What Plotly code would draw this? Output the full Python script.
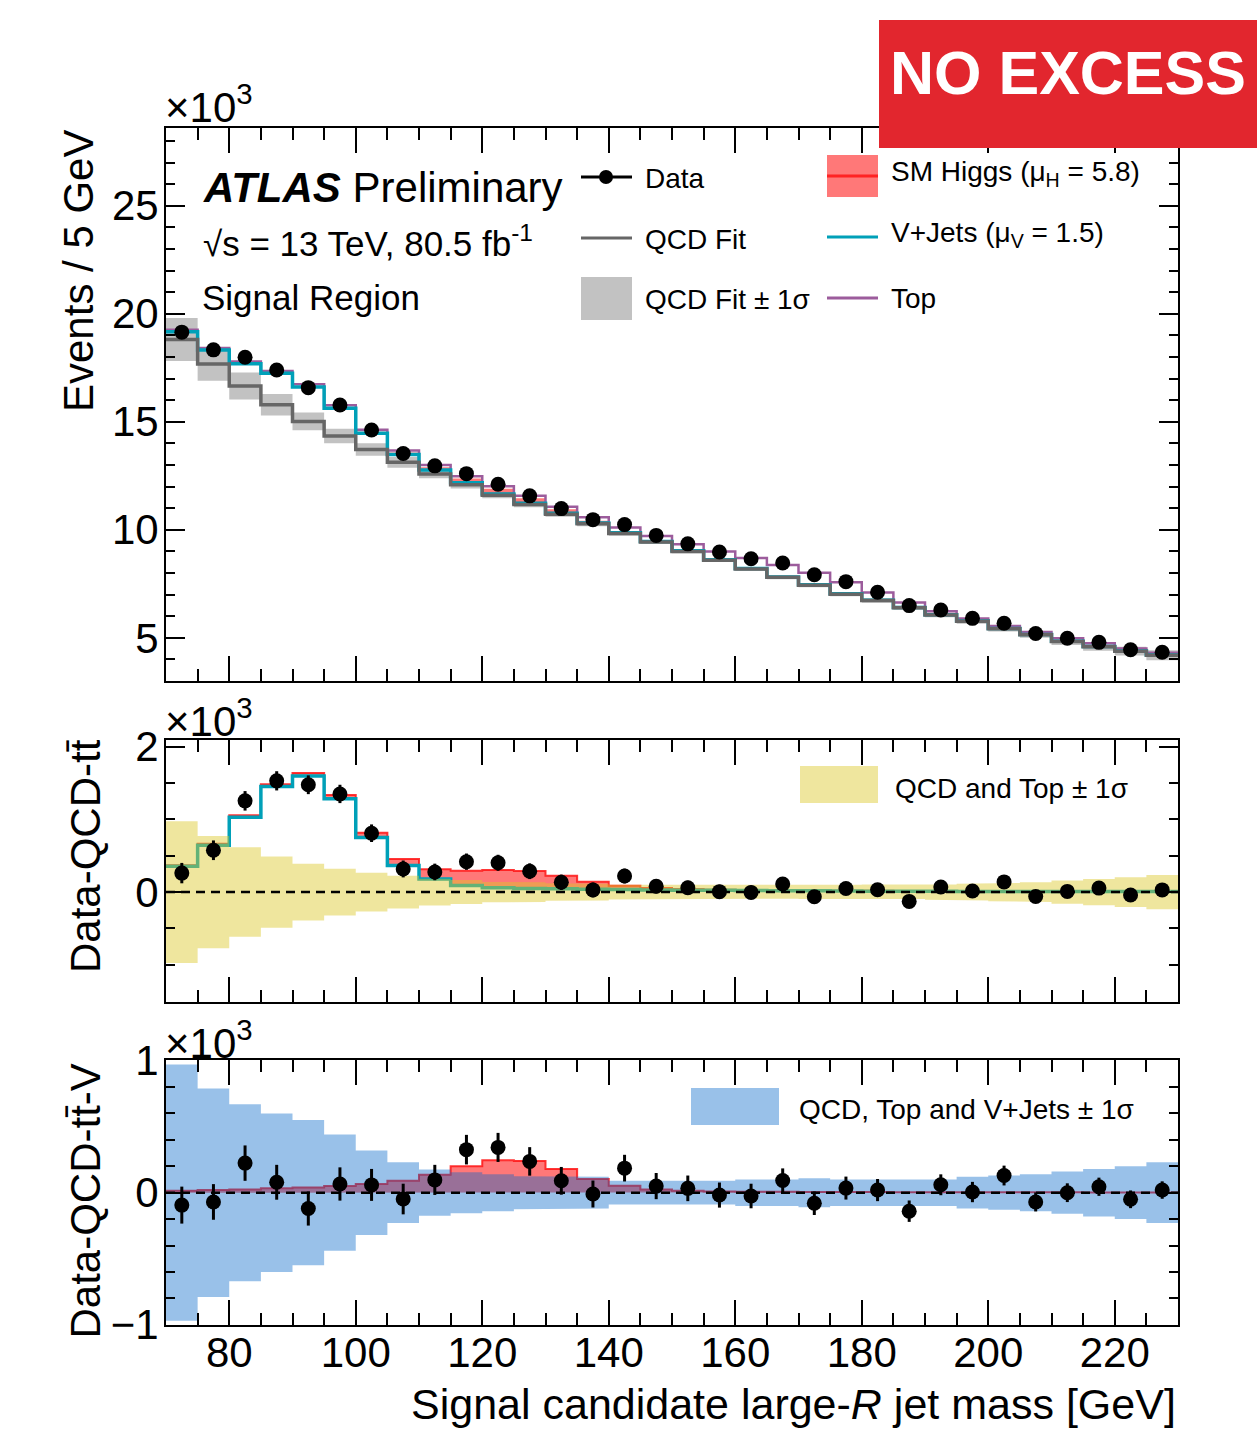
import numpy as np
import plotly.graph_objects as go

# ---- binning: large-R jet mass, 5 GeV bins from 70 to 230 GeV ----
mass_edges = list(range(70, 235, 5))

# ---- yields in units of 10^3 events per bin ----
data = [19.15, 18.33, 17.99, 17.40, 16.58, 15.78, 14.62, 13.53, 12.96, 12.60, 12.11,
        11.57, 10.98, 10.47, 10.24, 9.74, 9.35, 8.97, 8.66, 8.46, 7.92, 7.60, 7.11,
        6.49, 6.29, 5.90, 5.67, 5.20, 4.98, 4.79, 4.45, 4.33]
data_err = [0.140, 0.135, 0.134, 0.132, 0.129, 0.126, 0.121, 0.116, 0.114, 0.112, 0.110,
            0.108, 0.105, 0.102, 0.101, 0.099, 0.097, 0.095, 0.093, 0.092, 0.089, 0.087,
            0.084, 0.081, 0.079, 0.077, 0.075, 0.072, 0.071, 0.069, 0.067, 0.066]
qcd = [18.809, 17.675, 16.656, 15.791, 15.015, 14.341, 13.721, 13.122, 12.583, 12.082,
       11.597, 11.173, 10.725, 10.280, 9.829, 9.430, 9.000, 8.594, 8.184, 7.799, 7.433,
       7.020, 6.727, 6.388, 6.059, 5.765, 5.420, 5.140, 4.830, 4.585, 4.380, 4.190]
qcd_unc = [0.99, 0.77, 0.63, 0.50, 0.41, 0.34, 0.29, 0.25, 0.20, 0.17, 0.14, 0.135, 0.12,
           0.115, 0.10, 0.09, 0.09, 0.09, 0.09, 0.09, 0.095, 0.10, 0.105, 0.095, 0.105,
           0.115, 0.125, 0.135, 0.16, 0.18, 0.205, 0.235]
top = [0.08, 0.08, 0.08, 0.08, 0.09, 0.09, 0.09, 0.09, 0.10, 0.10, 0.11, 0.11, 0.12, 0.16,
       0.19, 0.23, 0.29, 0.37, 0.48, 0.55, 0.55, 0.53, 0.35, 0.23, 0.16, 0.12, 0.11, 0.12,
       0.14, 0.15, 0.11, 0.11]
vjets = [0.355, 0.645, 1.030, 1.450, 1.595, 1.283, 0.750, 0.366, 0.180, 0.092, 0.060,
         0.050, 0.045, 0.040, 0.035, 0.030, 0.027, 0.024, 0.021, 0.019, 0.017, 0.015,
         0.013, 0.012, 0.011, 0.010, 0.010, 0.010, 0.010, 0.010, 0.010, 0.010]
higgs = [0.015, 0.020, 0.025, 0.033, 0.040, 0.050, 0.066, 0.090, 0.135, 0.200, 0.245,
         0.240, 0.180, 0.104, 0.053, 0.025, 0.015, 0.010, 0.008, 0.007, 0.006, 0.005,
         0.005, 0.004, 0.004, 0.003, 0.003, 0.003, 0.003, 0.002, 0.002, 0.002]
qcd_top_unc = [0.975, 0.77, 0.615, 0.49, 0.39, 0.32, 0.265, 0.225, 0.185, 0.165, 0.14,
               0.135, 0.12, 0.115, 0.10, 0.09, 0.09, 0.09, 0.09, 0.09, 0.095, 0.10, 0.105,
               0.095, 0.105, 0.115, 0.125, 0.135, 0.16, 0.18, 0.205, 0.235]
qcd_top_v_unc = [0.97, 0.79, 0.67, 0.60, 0.55, 0.44, 0.32, 0.23, 0.175, 0.155, 0.14, 0.125,
                 0.125, 0.12, 0.09, 0.085, 0.085, 0.09, 0.10, 0.10, 0.11, 0.10, 0.10, 0.10,
                 0.10, 0.12, 0.13, 0.14, 0.16, 0.18, 0.20, 0.23]

edges = np.array(mass_edges, dtype=float)
centers = 0.5 * (edges[:-1] + edges[1:])
d = np.array(data)
q = np.array(qcd)
t = np.array(top)
v = np.array(vjets)
h = np.array(higgs)

resid_qcd_top = d - q - t
resid_all = resid_qcd_top - v

# ---- colours ----
C_QCD = "#666666"
C_QCD_BAND = "#c2c2c2"
C_V = "#00a0b8"
C_TOP = "#9c5c9c"
C_H_FILL = "rgba(255,0,0,0.53)"
C_H_LINE = "rgba(255,20,20,0.85)"
C_YELLOW = "rgba(220,200,40,0.45)"
C_BLUE = "rgba(0,100,200,0.40)"
FONT = "Liberation Sans, Arial, Helvetica, sans-serif"

W, H = 1257, 1432
L, R, T, B = 166, 1178, 128, 1325


def px(x):
    return (x - L) / (R - L)


def py(y):
    return (B - y) / (B - T)


def step(vals):
    vals = np.asarray(vals, dtype=float)
    return edges, np.append(vals, vals[-1])


def band(lo, hi):
    lo = np.asarray(lo, dtype=float)
    hi = np.asarray(hi, dtype=float)
    xs = np.repeat(edges, 2)[1:-1]
    return (np.concatenate([xs, xs[::-1]]),
            np.concatenate([np.repeat(hi, 2), np.repeat(lo, 2)[::-1]]))


fig = go.Figure()


def add_band(lo, hi, color, xa, ya):
    bx, by = band(lo, hi)
    fig.add_trace(go.Scatter(x=bx, y=by, fill="toself", fillcolor=color, mode="lines",
                             line=dict(width=0), hoverinfo="skip", showlegend=False,
                             xaxis=xa, yaxis=ya))


def add_step(vals, color, width, xa, ya):
    sx, sy = step(vals)
    fig.add_trace(go.Scatter(x=sx, y=sy, mode="lines", line=dict(color=color, width=width, shape="hv"),
                             hoverinfo="skip", showlegend=False, xaxis=xa, yaxis=ya))


def add_zero(xa, ya):
    fig.add_trace(go.Scatter(x=[edges[0], edges[-1]], y=[0, 0], mode="lines",
                             line=dict(color="black", width=2.5, dash="9px,6px"),
                             hoverinfo="skip", showlegend=False, xaxis=xa, yaxis=ya))


def add_data(yvals, xa, ya):
    fig.add_trace(go.Scatter(x=centers, y=yvals, mode="markers",
                             marker=dict(color="black", size=15),
                             error_y=dict(type="data", array=data_err, color="black",
                                          thickness=3, width=0),
                             showlegend=False, xaxis=xa, yaxis=ya))


# ---- top panel: stacked prediction vs data ----
add_band(q - np.array(qcd_unc), q + np.array(qcd_unc), C_QCD_BAND, "x", "y")
add_band(q + v, q + v + h, C_H_FILL, "x", "y")
add_step(q + v + h + t, C_TOP, 2.5, "x", "y")
add_step(q + v, C_V, 3.5, "x", "y")
add_step(q, C_QCD, 3.5, "x", "y")
add_data(d, "x", "y")

# ---- middle panel: data - QCD - ttbar ----
add_band(v, v + h, C_H_FILL, "x2", "y2")
add_step(v + h, C_H_LINE, 2, "x2", "y2")
add_step(v, C_V, 3.5, "x2", "y2")
add_band(-np.array(qcd_top_unc), np.array(qcd_top_unc), C_YELLOW, "x2", "y2")
add_zero("x2", "y2")
add_data(resid_qcd_top, "x2", "y2")

# ---- bottom panel: data - QCD - ttbar - V ----
add_band(np.zeros_like(h), h, C_H_FILL, "x3", "y3")
add_step(h, C_H_LINE, 2, "x3", "y3")
add_band(-np.array(qcd_top_v_unc), np.array(qcd_top_v_unc), C_BLUE, "x3", "y3")
add_zero("x3", "y3")
add_data(resid_all, "x3", "y3")

tick_font = dict(family=FONT, size=42, color="black")


def xaxis_style(anchor, labels):
    return dict(range=[70, 230], domain=[0, 1], anchor=anchor, showline=True, linecolor="black",
                linewidth=2, mirror="ticks", ticks="inside", ticklen=25, tickwidth=2,
                tickcolor="black", tick0=0, dtick=20, showgrid=False, zeroline=False,
                showticklabels=labels, tickfont=tick_font, ticklabelstandoff=-10,
                minor=dict(ticks="inside", ticklen=12, tickwidth=2, tickcolor="black", dtick=5,
                           showgrid=False))


def yaxis_style(anchor, dom, rng, dt, mdt):
    return dict(range=rng, domain=dom, anchor=anchor, showline=True, linecolor="black",
                linewidth=2, mirror="ticks", ticks="inside", ticklen=19, tickwidth=2,
                tickcolor="black", tick0=0, dtick=dt, showgrid=False, zeroline=False,
                tickfont=tick_font, ticklabelstandoff=-3,
                minor=dict(ticks="inside", ticklen=9, tickwidth=2, tickcolor="black", dtick=mdt,
                           showgrid=False))


fig.update_layout(
    width=W, height=H, margin=dict(l=L, r=W - R, t=T, b=H - B),
    paper_bgcolor="white", plot_bgcolor="white", showlegend=False,
    font=dict(family=FONT, color="black"),
    xaxis=xaxis_style("y", False),
    xaxis2=xaxis_style("y2", False),
    xaxis3=xaxis_style("y3", True),
    yaxis=yaxis_style("x", [py(681), 1.0], [3.0, 28.6], 5, 1),
    yaxis2=yaxis_style("x2", [py(1002), py(740)], [-1.51, 2.09], 2, 0.5),
    yaxis3=yaxis_style("x3", [0.0, py(1060)], [-1.002, 1.005], 1, 0.2),
)

shapes = []
annotations = []


def text(x, y, s, size, xanchor="left", yanchor="middle", angle=0, color="black"):
    annotations.append(dict(x=px(x), y=py(y), xref="paper", yref="paper", text=s,
                            showarrow=False, xanchor=xanchor, yanchor=yanchor,
                            textangle=angle, font=dict(family=FONT, size=size, color=color)))


def rect(x0, y0, x1, y1, fill, layer="above"):
    shapes.append(dict(type="rect", xref="paper", yref="paper", x0=px(x0), x1=px(x1),
                       y0=py(y0), y1=py(y1), fillcolor=fill, line=dict(width=0), layer=layer))


def hline(x0, x1, y, color, width):
    shapes.append(dict(type="line", xref="paper", yref="paper", x0=px(x0), x1=px(x1),
                       y0=py(y), y1=py(y), line=dict(color=color, width=width), layer="above"))


# axis titles and multipliers
text(78, 128, "Events / 5 GeV", 42, xanchor="center", yanchor="top", angle=-90)
text(85, 737, "Data-QCD-tt\u0304", 42, xanchor="center", yanchor="top", angle=-90)
text(85, 1062, "Data-QCD-tt\u0304-V", 42, xanchor="center", yanchor="top", angle=-90)
text(1178, 1404, "Signal candidate large-<i>R</i> jet mass [GeV]", 43, xanchor="right")
for ytop in (104, 718, 1040):
    text(163, ytop, "\u00d710<sup>3</sup>", 42)

# labels
text(201, 187, "<b><i>ATLAS</i></b> Preliminary", 42)
text(201, 241, "\u221as = 13 TeV, 80.5 fb<sup>-1</sup>", 35)
text(200, 297, "Signal Region", 35)

# legend, left column
hline(581, 632, 177, "black", 3)
shapes.append(dict(type="circle", xref="paper", yref="paper", x0=px(599), x1=px(613),
                   y0=py(170), y1=py(184), fillcolor="black", line=dict(width=0), layer="above"))
text(643, 178, "Data", 28)
hline(581, 632, 238, C_QCD, 3)
text(643, 239, "QCD Fit", 28)
rect(581, 277, 632, 320, C_QCD_BAND)
text(643, 299, "QCD Fit \u00b1 1\u03c3", 28)

# legend, right column
rect(827, 155, 878, 197, C_H_FILL)
hline(827, 878, 176, C_H_LINE, 3)
text(889, 173, "SM Higgs (\u03bc<sub>H</sub> = 5.8)", 28)
hline(827, 878, 237, C_V, 3)
text(889, 234, "V+Jets (\u03bc<sub>V</sub> = 1.5)", 28)
hline(827, 878, 298, C_TOP, 3)
text(889, 298, "Top", 28)

# band legends in the ratio panels
rect(800, 766, 878, 803, C_YELLOW)
text(893, 788, "QCD and Top \u00b1 1\u03c3", 28)
rect(691, 1088, 779, 1125, C_BLUE)
text(797, 1109, "QCD, Top and V+Jets \u00b1 1\u03c3", 28)

# result banner
rect(879, 20, 1257, 148, "#e2262e")
annotations.append(dict(x=px(1068), y=py(73), xref="paper", yref="paper", text="<b>NO EXCESS</b>",
                        showarrow=False, xanchor="center", yanchor="middle",
                        font=dict(family=FONT, size=61, color="white")))

fig.update_layout(shapes=shapes, annotations=annotations)
fig.write_html("out.html")
